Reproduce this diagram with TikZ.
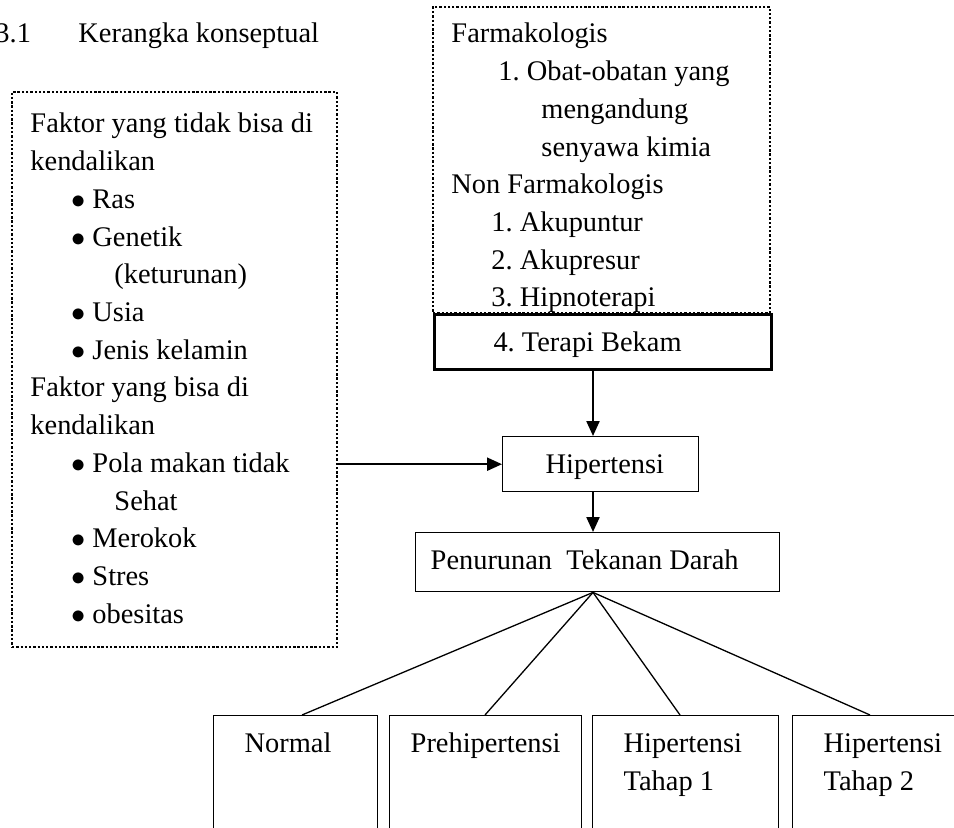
\documentclass[tikz,border=0pt]{standalone}
\usepackage{fontspec}
\setmainfont{Liberation Serif}
\usepackage{tikz}
\usetikzlibrary{arrows.meta}
\usetikzlibrary{fit}
\usetikzlibrary{calc}
\newlength{\upx}
\setlength{\upx}{0.4225pt}
\frenchspacing
\newcommand{\hurufku}{\fontsize{12}{15.93}\selectfont}
\newcommand{\butir}[1]{\hspace*{41\upx}\makebox[21\upx][l]{$\bullet$}#1}
\tikzstyle{titik}=[
        draw,
        line width=1pt,
        dash pattern=on 1pt off 0.8pt,
        inner sep=0pt
]
\tikzstyle{isi}=[anchor=base west,align=flush left,inner sep=0pt,text width=330\upx]
\tikzstyle{kotak}=[draw,line width=0.6pt,anchor=north west,align=flush left,inner ysep=0pt,text height=37\upx]
\tikzstyle{tebal}=[kotak,line width=1.3pt]
\tikzstyle{panah}=[-{Triangle[length=6.3pt,width=5.5pt]},line width=0.85pt]
\tikzstyle{garis}=[line width=0.55pt]

\begin{document}
\begin{tikzpicture}[x=0.4225pt,y=-0.4225pt,font=\hurufku]
\useasboundingbox (0,0) rectangle (954,828);
\node[anchor=base west,inner sep=0pt] (judul) at (-5,43) {\makebox[83\upx][l]{3.1}Kerangka konseptual};
\node[titik,fit={(12,92) (337,647)}] (faktor) {};
\node[isi] (faktorisi) at (30,133) {Faktor yang tidak bisa di\\
kendalikan\\
\butir{Ras}\\
\butir{Genetik}\\
\hspace*{84\upx}(keturunan)\\
\butir{Usia}\\
\butir{Jenis kelamin}\\
Faktor yang bisa di\\
kendalikan\\
\butir{Pola makan tidak}\\
\hspace*{84\upx}Sehat\\
\butir{Merokok}\\
\butir{Stres}\\
\butir{obesitas}};
\node[titik,fit={(433,7) (770,313)}] (obat) {};
\node[isi] (obatisi) at (451,43) {Farmakologis\\
\hspace*{47\upx}1. Obat-obatan yang\\
\hspace*{90\upx}mengandung\\
\hspace*{90\upx}senyawa kimia\\
Non Farmakologis\\
\hspace*{40\upx}1. Akupuntur\\
\hspace*{40\upx}2. Akupresur\\
\hspace*{40\upx}3. Hipnoterapi};
\node[tebal,text width=219\upx,inner xsep=59\upx,text depth=18\upx] (bekam) at (433,313) {4. Terapi Bekam};
\node[kotak,text width=110\upx,inner xsep=43\upx,text depth=18\upx] (hiper) at (502,436) {Hipertensi};
\node[kotak,text width=334\upx,inner xsep=15\upx,text depth=22\upx] (turun) at (415,532) {Penurunan\ \ Tekanan Darah};
\node[kotak,text width=102\upx,inner xsep=31\upx,text depth=130\upx] (normal) at (213,715) {Normal};
\node[kotak,text width=150\upx,inner xsep=21\upx,text depth=130\upx] (prehiper) at (389,715) {Prehipertensi};
\node[kotak,text width=124\upx,inner xsep=31\upx,text depth=130\upx] (tahap1) at (592,715) {Hipertensi\\Tahap 1};
\node[kotak,text width=124\upx,inner xsep=31\upx,text depth=130\upx] (tahap2) at (792,715) {Hipertensi\\Tahap 2};
\coordinate (sumbu) at (593,0);
\coordinate (puncak) at (sumbu |- turun.south);
%Drawing Edges
\draw[panah] (sumbu |- bekam.south) -- (sumbu |- hiper.north);
\draw[panah] (faktor.east |- hiper.west) -- (hiper.west);
\draw[panah] (sumbu |- hiper.south) -- (sumbu |- turun.north);
\draw[garis] (puncak) -- ([xshift=89\upx]normal.north west);
\draw[garis] (puncak) -- ([xshift=96\upx]prehiper.north west);
\draw[garis] (puncak) -- ([xshift=88\upx]tahap1.north west);
\draw[garis] (puncak) -- ([xshift=78\upx]tahap2.north west);
\end{tikzpicture}
\end{document}
